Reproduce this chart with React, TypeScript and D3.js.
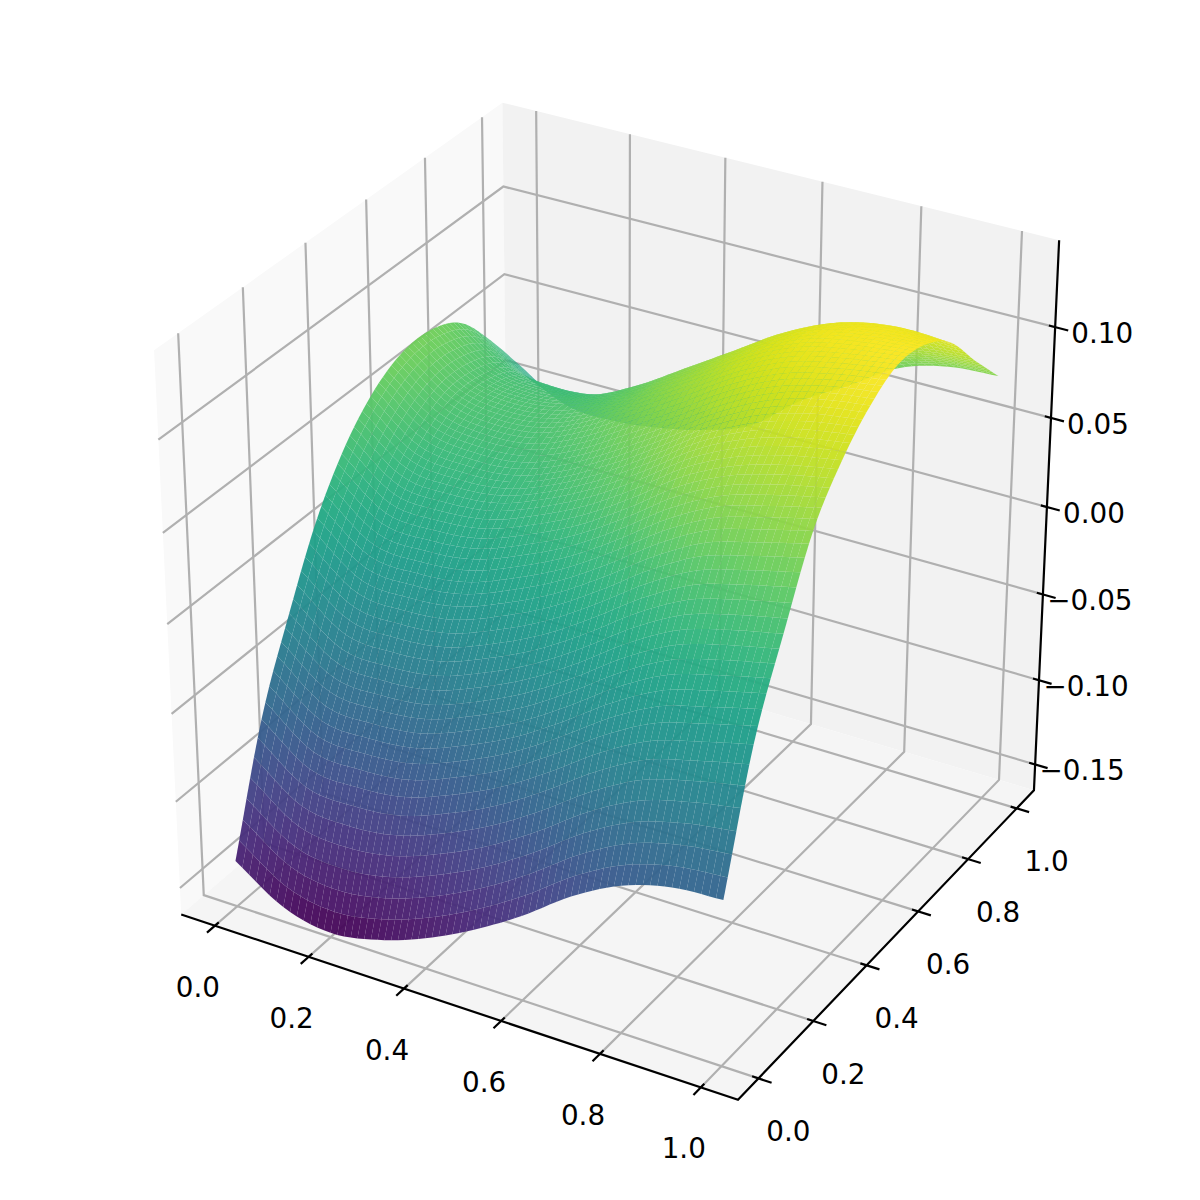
import React from "react";
import * as d3 from "d3";

// Surface heights estimated by eye from the reference, one array per y row, at x = 0, 0.1, ... 1.
// The reference's finer mesh cannot be read cell by cell: the drawn mesh is a smooth
// (Catmull-Rom) rendering through these control values, like a line chart's curve.
const xSamples = [0, 0.1, 0.2, 0.3, 0.4, 0.5, 0.6, 0.7, 0.8, 0.9, 1];
const ySamples = [0, 0.1, 0.2, 0.3, 0.4, 0.5, 0.6, 0.7, 0.8, 0.9, 1];
const zAtY00 = [-0.139, -0.157, -0.163, -0.158, -0.148, -0.134, -0.117, -0.097, -0.082, -0.074, -0.072];
const zAtY01 = [-0.072, -0.092, -0.094, -0.091, -0.081, -0.068, -0.051, -0.032, -0.017, -0.009, -0.002];
const zAtY02 = [-0.026, -0.046, -0.048, -0.045, -0.035, -0.022, -0.005, 0.014, 0.029, 0.037, 0.043];
const zAtY03 = [0.014, -0.006, -0.008, -0.005, 0.005, 0.018, 0.035, 0.054, 0.069, 0.077, 0.084];
const zAtY04 = [0.042, 0.022, 0.02, 0.023, 0.033, 0.046, 0.063, 0.082, 0.095, 0.103, 0.108];
const zAtY05 = [0.06, 0.04, 0.036, 0.038, 0.048, 0.063, 0.08, 0.098, 0.112, 0.12, 0.124];
const zAtY06 = [0.069, 0.05, 0.045, 0.048, 0.06, 0.077, 0.094, 0.111, 0.123, 0.129, 0.133];
const zAtY07 = [0.069, 0.05, 0.046, 0.05, 0.062, 0.079, 0.096, 0.113, 0.125, 0.13, 0.131];
const zAtY08 = [0.06, 0.042, 0.038, 0.041, 0.054, 0.07, 0.087, 0.104, 0.116, 0.121, 0.12];
const zAtY09 = [0.038, 0.02, 0.016, 0.019, 0.029, 0.042, 0.059, 0.077, 0.09, 0.096, 0.098];
const zAtY10 = [0.012, -0.004, -0.006, -0.003, 0.003, 0.013, 0.034, 0.05, 0.067, 0.075, 0.077];
const zRows = [zAtY00, zAtY01, zAtY02, zAtY03, zAtY04, zAtY05, zAtY06, zAtY07, zAtY08, zAtY09, zAtY10];

const xTicks = [0, 0.2, 0.4, 0.6, 0.8, 1];
const yTicks = [0, 0.2, 0.4, 0.6, 0.8, 1];
const zTicks = [-0.15, -0.1, -0.05, 0, 0.05, 0.1];
const xLim: [number, number] = [-0.0729, 1.0729];
const yLim: [number, number] = [-0.0729, 1.0729];
const zLim: [number, number] = [-0.1655, 0.147];

const A = 0.595;
const DIST = 10;
const el = (30 * Math.PI) / 180;
const az = (-60 * Math.PI) / 180;
const W = [Math.cos(el) * Math.cos(az), Math.cos(el) * Math.sin(az), Math.sin(el)];
const ul = Math.hypot(W[0], W[1]);
const U = [-W[1] / ul, W[0] / ul, 0];
const V = [
  W[1] * U[2] - W[2] * U[1],
  W[2] * U[0] - W[0] * U[2],
  W[0] * U[1] - W[1] * U[0],
];
const sx = d3.scaleLinear().domain(xLim).range([-A, A]);
const sy = d3.scaleLinear().domain(yLim).range([-A, A]);
const sz = d3.scaleLinear().domain(zLim).range([-A, A]);
const px = d3.scaleLinear().domain([0, 0.1]).range([615.4, 615.4 + 540]);
const py = d3.scaleLinear().domain([0, 0.1]).range([581, 581 - 540]);

type P = { x: number; y: number; depth: number };
function project(x: number, y: number, z: number): P {
  const d = [sx(x), sy(y), sz(z)];
  const dot = (a: number[]) => a[0] * d[0] + a[1] * d[1] + a[2] * d[2];
  const depth = DIST - dot(W);
  return { x: px(dot(U) / depth), y: py(dot(V) / depth), depth };
}
const pathOf = (pts: P[]) => d3.line<P>().x((p) => p.x).y((p) => p.y)(pts) as string;
const seg = (pts: number[][]) => pathOf(pts.map((p) => project(p[0], p[1], p[2])));

function spline(vals: number[], t: number) {
  const n = vals.length - 1;
  const f = Math.min(n - 1e-9, Math.max(0, t * n));
  const i = Math.floor(f);
  const s = f - i;
  const p1 = vals[i];
  const p2 = vals[i + 1];
  const p0 = i > 0 ? vals[i - 1] : 2 * p1 - p2;
  const p3 = i + 2 <= n ? vals[i + 2] : 2 * p2 - p1;
  return (
    0.5 *
    (2 * p1 + (-p0 + p2) * s + (2 * p0 - 5 * p1 + 4 * p2 - p3) * s * s + (-p0 + 3 * p1 - 3 * p2 + p3) * s * s * s)
  );
}
function surfaceZ(x: number, y: number) {
  const col = zRows.map((r) => spline(r, x));
  return spline(col, y);
}

const CELLS = 70;
const MESH = d3.range(CELLS + 1).map((j) => d3.range(CELLS + 1).map((i) => {
  const x = d3.scaleLinear().domain([0, CELLS]).range([xSamples[0], xSamples[10]])(i);
  const y = d3.scaleLinear().domain([0, CELLS]).range([ySamples[0], ySamples[10]])(j);
  return { x, y, z: surfaceZ(x, y) };
}));
const allZ = MESH.flat().map((p) => p.z);
const colour = d3.scaleSequential(d3.interpolateViridis).domain(d3.extent(allZ) as [number, number]);
const cells = d3.range(CELLS).flatMap((j) => d3.range(CELLS).map((i) => {
  const c = [MESH[j][i], MESH[j][i + 1], MESH[j + 1][i + 1], MESH[j + 1][i]];
  const pts = c.map((p) => project(p.x, p.y, p.z));
  return {
    d: pathOf(pts) + "Z",
    depth: d3.mean(pts, (p) => p.depth) as number,
    fill: colour(d3.mean(c, (p) => p.z) as number) as string,
  };
})).sort((a, b) => b.depth - a.depth);

const [x0, x1] = xLim;
const [y0, y1] = yLim;
const [z0, z1] = zLim;
const panes = [
  { pts: [[x0, y0, z0], [x0, y1, z0], [x0, y1, z1], [x0, y0, z1]], fill: "#f9f9f9" },
  { pts: [[x0, y1, z0], [x1, y1, z0], [x1, y1, z1], [x0, y1, z1]], fill: "#f2f2f2" },
  { pts: [[x0, y0, z0], [x1, y0, z0], [x1, y1, z0], [x0, y1, z0]], fill: "#f5f5f5" },
];
const OUT = 0.27 / 12;
const IN = 0.13 / 12;
const dX = x1 - x0;
const dY = y1 - y0;
const fmt1 = d3.format(".1f");
const fmtZ = (v: number) => d3.format(".2f")(v).replace("-", "\u2212");

export default function App() {
  const font = { fontFamily: "'DejaVu Sans'", fontSize: 27.8, fill: "#000", textAnchor: "middle" as const };
  const grid = { fill: "none", stroke: "#b0b0b0", strokeWidth: 2.2 };
  const axis = { fill: "none", stroke: "#000", strokeWidth: 2.2 };
  return (
    <svg width={1200} height={1200} style={{ position: "absolute", left: 0, top: 0, background: "#fff" }}>
      {panes.map((p, i) => <path key={i} d={seg(p.pts) + "Z"} fill={p.fill} />)}
      {xTicks.map((t) => <path key={t} {...grid} d={seg([[t, y0, z0], [t, y1, z0], [t, y1, z1]])} />)}
      {yTicks.map((t) => <path key={t} {...grid} d={seg([[x1, t, z0], [x0, t, z0], [x0, t, z1]])} />)}
      {zTicks.map((t) => <path key={t} {...grid} d={seg([[x0, y0, t], [x0, y1, t], [x1, y1, t]])} />)}
      <path {...axis} d={seg([[x0, y0, z0], [x1, y0, z0], [x1, y1, z0], [x1, y1, z1]])} />
      {xTicks.map((t) => <path key={t} {...axis} d={seg([[t, y0 - OUT * dY, z0], [t, y0 + IN * dY, z0]])} />)}
      {yTicks.map((t) => <path key={t} {...axis} d={seg([[x1 + OUT * dX, t, z0], [x1 - IN * dX, t, z0]])} />)}
      {zTicks.map((t) => <path key={t} {...axis} d={seg([[x1 + OUT * dX, y1, t], [x1 - IN * dX, y1, t]])} />)}
      <g>
        {cells.map((c, i) => <path key={i} d={c.d} fill={c.fill} fillOpacity={0.95} />)}
      </g>
      {xTicks.map((t) => {
        const p = project(t, y0, z0);
        return <text key={t} {...font} x={p.x - 17} y={p.y + 71}>{fmt1(t)}</text>;
      })}
      {yTicks.map((t) => {
        const p = project(x1, t, z0);
        return <text key={t} {...font} x={p.x + 30} y={p.y + 63}>{fmt1(t)}</text>;
      })}
      {zTicks.map((t) => {
        const p = project(x1, y1, t);
        return <text key={t} {...font} x={p.x + 47} y={p.y + 16}>{fmtZ(t)}</text>;
      })}
    </svg>
  );
}
